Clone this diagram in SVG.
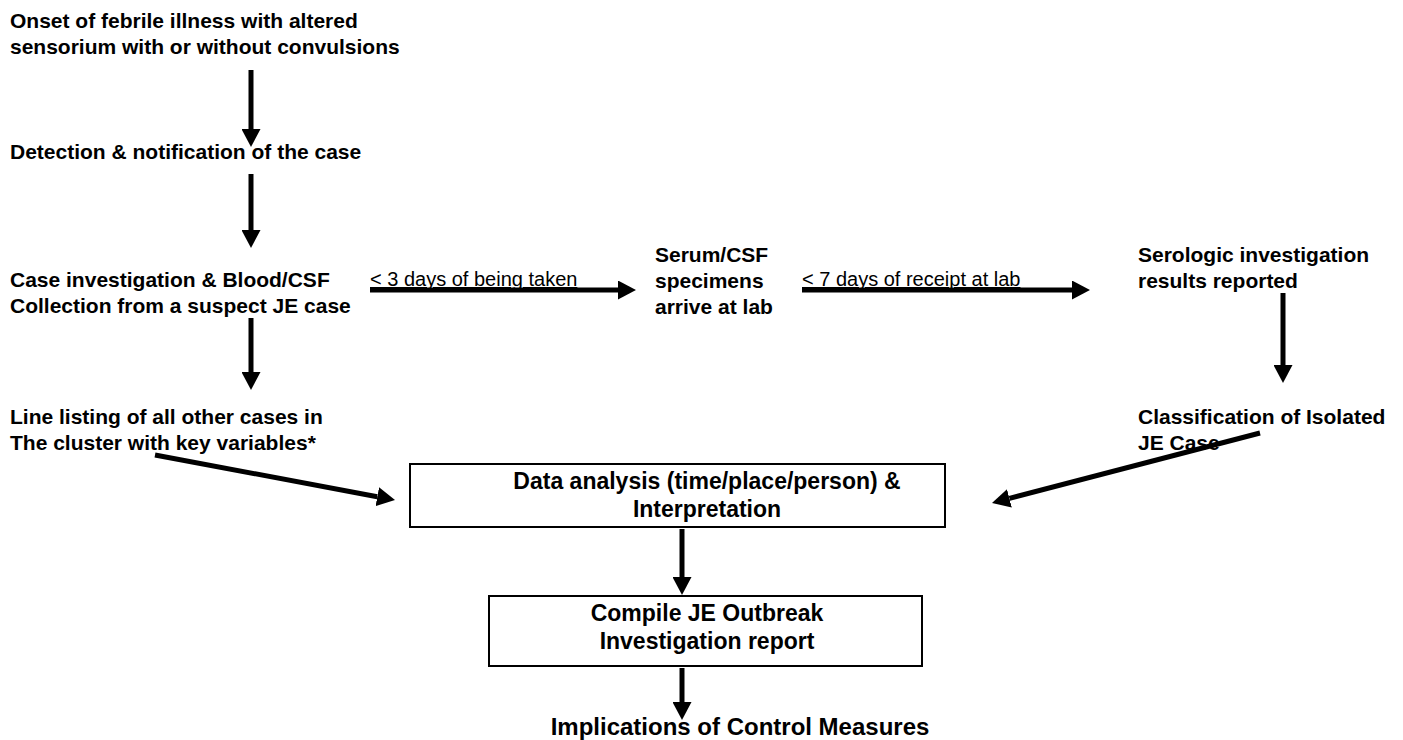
<svg xmlns="http://www.w3.org/2000/svg" width="1403" height="740" viewBox="0 0 1403 740">
  <style>
    .lbl { font-family: "Liberation Sans", Arial, sans-serif; font-weight: bold; font-size: 21px; fill: #000; }
    .boxlbl { font-family: "Liberation Sans", Arial, sans-serif; font-weight: bold; font-size: 23px; fill: #000; text-anchor: middle; }
    .note { font-family: "Liberation Sans", Arial, sans-serif; font-size: 20px; fill: #000; text-decoration: underline; }
    .big { font-family: "Liberation Sans", Arial, sans-serif; font-weight: bold; font-size: 24px; fill: #000; text-anchor: middle; }
    .box { fill: #fff; stroke: #000; stroke-width: 2; }
    .shaft { stroke: #000; stroke-width: 5; fill: none; marker-end: url(#head); }
  </style>
  <defs>
    <!-- solid triangular arrowhead; shafts stop at its base -->
    <marker id="head" markerUnits="userSpaceOnUse" markerWidth="18" markerHeight="19" refX="0" refY="9.5" orient="auto" viewBox="0 0 18 19">
      <path d="M0,0 L18,9.5 L0,19 z" fill="#000"/>
    </marker>
  </defs>

  <rect width="1403" height="740" fill="#fff"/>

  <g id="onset">
    <text class="lbl" x="10" y="28">Onset of febrile illness with altered</text>
    <text class="lbl" x="10" y="54">sensorium with or without convulsions</text>
  </g>
  <g id="detection">
    <text class="lbl" x="10" y="159">Detection &amp; notification of the case</text>
  </g>
  <g id="case-investigation">
    <text class="lbl" x="10" y="287">Case investigation &amp; Blood/CSF</text>
    <text class="lbl" x="10" y="313">Collection from a suspect JE case</text>
  </g>
  <g id="specimens">
    <text class="lbl" x="655" y="262">Serum/CSF</text>
    <text class="lbl" x="655" y="288">specimens</text>
    <text class="lbl" x="655" y="314">arrive at lab</text>
  </g>
  <g id="serologic">
    <text class="lbl" x="1138" y="262">Serologic investigation</text>
    <text class="lbl" x="1138" y="288">results reported</text>
  </g>
  <g id="line-listing">
    <text class="lbl" x="10" y="424">Line listing of all other cases in</text>
    <text class="lbl" x="10" y="450">The cluster with key variables*</text>
  </g>
  <g id="classification">
    <text class="lbl" x="1138" y="424">Classification of Isolated</text>
    <text class="lbl" x="1138" y="450">JE Case</text>
  </g>
  <g id="data-analysis">
    <rect class="box" x="410" y="464" width="535" height="63"/>
    <text class="boxlbl" x="707" y="489">Data analysis (time/place/person) &amp;</text>
    <text class="boxlbl" x="707" y="517">Interpretation</text>
  </g>
  <g id="report">
    <rect class="box" x="489" y="596" width="433" height="70"/>
    <text class="boxlbl" x="707" y="621">Compile JE Outbreak</text>
    <text class="boxlbl" x="707" y="649">Investigation report</text>
  </g>
  <g id="implications">
    <text class="big" x="740" y="735">Implications of Control Measures</text>
  </g>

  <g id="connectors">
    <line class="shaft" x1="251" y1="70" x2="251" y2="129"/>
    <line class="shaft" x1="251" y1="174" x2="251" y2="230"/>
    <line class="shaft" x1="251" y1="318" x2="251" y2="372"/>
    <line class="shaft" x1="370" y1="290" x2="618" y2="290"/>
    <line class="shaft" x1="802" y1="290" x2="1072" y2="290"/>
    <line class="shaft" x1="1283" y1="293" x2="1283" y2="365"/>
    <line class="shaft" x1="155" y1="455" x2="377.3" y2="496.7"/>
    <line class="shaft" x1="1260" y1="433" x2="1009.4" y2="498.4"/>
    <line class="shaft" x1="682" y1="529" x2="682" y2="577"/>
    <line class="shaft" x1="682" y1="668" x2="682" y2="702"/>
    <text class="note" x="370" y="286">&lt; 3 days of being taken</text>
    <text class="note" x="802" y="286">&lt; 7 days of receipt at lab</text>
  </g>
</svg>
